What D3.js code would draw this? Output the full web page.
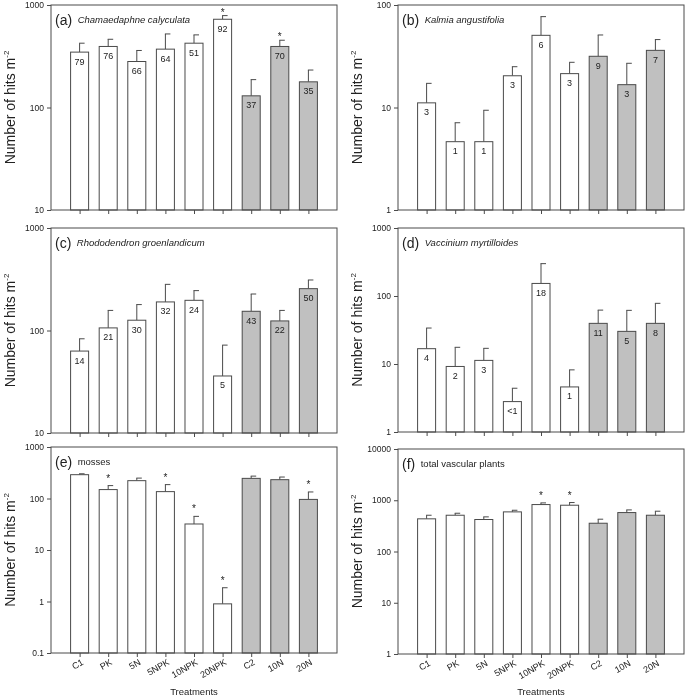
<!DOCTYPE html>
<html><head><meta charset="utf-8">
<script src="https://cdn.jsdelivr.net/npm/d3@7"></script>
<style>
body{margin:0;background:#fff}
svg{display:block;will-change:transform}
text{font-family:"Liberation Sans",Arial,sans-serif;fill:#222}
</style>
</head><body>
<svg id="chart" width="685" height="698"></svg>
<script>
// ---------- data ----------
const treatments = ["C1","PK","5N","5NPK","10NPK","20NPK","C2","10N","20N"];
const shadedTreatments = ["C2","10N","20N"];

const panelLetters = ["(a)","(b)","(c)","(d)","(e)","(f)"];
const panelNames = ["Chamaedaphne calyculata","Kalmia angustifolia","Rhododendron groenlandicum","Vaccinium myrtilloides","mosses","total vascular plants"];
const panelItalic = [true,true,true,true,false,false];

const chamaedaphneMean  = [347,394,281,371,424,726,130,394,178];
const chamaedaphneUpper = [424,463,360,522,511,788,187,453,232];
const chamaedaphneN     = ["79","76","66","64","51","92","37","70","35"];
const chamaedaphneSig   = [0,0,0,0,0,1,0,1,0];

const kalmiaMean  = [11.1,4.64,4.64,20.4,50.6,21.4,31.6,16.7,36.1];
const kalmiaUpper = [17.2,7.1,9.4,25,77,27.6,51,27,46];
const kalmiaN     = ["3","1","1","3","6","3","9","3","7"];
const kalmiaSig   = [0,0,0,0,0,0,0,0,0];

const rhododendronMean  = [63,106,126,190,197,36,154,124,256];
const rhododendronUpper = [83,157,179,282,245,72,227,157,311];
const rhododendronN     = ["14","21","30","32","24","5","43","22","50"];
const rhododendronSig   = [0,0,0,0,0,0,0,0,0];

const vacciniumMean  = [16.8,9.2,11.3,2.8,153,4.6,39.6,30.2,39.6];
const vacciniumUpper = [33.8,17.6,17,4.4,299,8.2,62,61.5,78];
const vacciniumN     = ["4","2","3","<1","18","1","11","5","8"];
const vacciniumSig   = [0,0,0,0,0,0,0,0,0];

const mossesMean  = [290,149,222,136,32,0.9,246,232,96];
const mossesUpper = [302,178,249,186,45,1.85,272,261,134];
const mossesN     = ["","","","","","","","",""];
const mossesSig   = [0,1,0,1,1,1,0,0,1];

const vascularMean  = [434,510,421,593,824,800,356,575,510];
const vascularUpper = [510,558,474,638,888,902,427,648,611];
const vascularN     = ["","","","","","","","",""];
const vascularSig   = [0,0,0,0,1,1,0,0,0];

const yTicksA = [10,100,1000];
const yTicksB = [1,10,100];
const yTicksC = [10,100,1000];
const yTicksD = [1,10,100,1000];
const yTicksE = [0.1,1,10,100,1000];
const yTicksF = [1,10,100,1000,10000];

const yLabel = "Number of hits m";
const yLabelSup = "-2";
const xLabel = "Treatments";

// ---------- panel table ----------
const panels = [
  {mean:chamaedaphneMean, upper:chamaedaphneUpper, n:chamaedaphneN, sig:chamaedaphneSig, ticks:yTicksA},
  {mean:kalmiaMean, upper:kalmiaUpper, n:kalmiaN, sig:kalmiaSig, ticks:yTicksB},
  {mean:rhododendronMean, upper:rhododendronUpper, n:rhododendronN, sig:rhododendronSig, ticks:yTicksC},
  {mean:vacciniumMean, upper:vacciniumUpper, n:vacciniumN, sig:vacciniumSig, ticks:yTicksD},
  {mean:mossesMean, upper:mossesUpper, n:mossesN, sig:mossesSig, ticks:yTicksE},
  {mean:vascularMean, upper:vascularUpper, n:vascularN, sig:vascularSig, ticks:yTicksF}
];

const layout = [
  {left:51,  top:5,   w:286, h:205, star:6},
  {left:398, top:5,   w:286, h:205, star:9},
  {left:51,  top:228, w:286, h:205, star:9},
  {left:398, top:228, w:286, h:204, star:9},
  {left:51,  top:447, w:286, h:206, star:10},
  {left:398, top:449, w:286, h:205, star:10}
];

const svg = d3.select("#chart");
const lineCol = "#4a4a4a";

panels.forEach((p, i) => {
  const L = layout[i];
  const g = svg.append("g").attr("transform", `translate(${L.left},${L.top})`);
  const x = d3.scalePoint().domain(treatments).range([0, L.w]).padding(1);
  const ext = d3.extent(p.ticks);
  const y = d3.scaleLog().domain(ext).range([L.h, 0]);
  const bw = x.step() * 0.63;
  const rows = treatments.map((t, j) => ({t, m:p.mean[j], u:p.upper[j], n:p.n[j], s:p.sig[j]}));

  // error bars
  g.selectAll("line.err").data(rows).join("line")
    .attr("x1", d => x(d.t)).attr("x2", d => x(d.t))
    .attr("y1", d => y(d.m)).attr("y2", d => y(d.u))
    .attr("stroke", lineCol).attr("stroke-width", 1);
  g.selectAll("line.cap").data(rows).join("line")
    .attr("x1", d => x(d.t) - 0.5).attr("x2", d => x(d.t) + 5)
    .attr("y1", d => y(d.u)).attr("y2", d => y(d.u))
    .attr("stroke", lineCol).attr("stroke-width", 1);

  // bars
  g.selectAll("rect.bar").data(rows).join("rect")
    .attr("x", d => x(d.t) - bw/2)
    .attr("y", d => y(d.m))
    .attr("width", bw)
    .attr("height", d => L.h - y(d.m))
    .attr("fill", d => shadedTreatments.includes(d.t) ? "#c0c0c0" : "#fff")
    .attr("stroke", lineCol).attr("stroke-width", 1);

  // n labels
  g.selectAll("text.n").data(rows.filter(d => d.n !== "")).join("text")
    .attr("x", d => x(d.t)).attr("y", d => y(d.m) + 12.5)
    .attr("text-anchor", "middle").attr("font-size", 9).text(d => d.n);

  // significance stars
  g.selectAll("text.star").data(rows.filter(d => d.s)).join("text")
    .attr("x", d => x(d.t)).attr("y", d => y(d.u) - L.star + 6)
    .attr("text-anchor", "middle").attr("font-size", 10).text("*");

  // frame
  g.append("rect").attr("x",0).attr("y",0).attr("width",L.w).attr("height",L.h)
    .attr("fill","none").attr("stroke",lineCol).attr("stroke-width",1);

  // y axis
  const ya = g.append("g").call(d3.axisLeft(y).tickValues(p.ticks).tickFormat(d => String(d)).tickSize(4).tickPadding(3));
  ya.select(".domain").remove();
  ya.selectAll("line").attr("stroke", lineCol);
  ya.selectAll("text").attr("font-size", 8.5).attr("fill", "#222");

  // x axis
  const xa = g.append("g").attr("transform", `translate(0,${L.h})`)
    .call(d3.axisBottom(x).tickSize(4).tickFormat(i >= 4 ? (d => d) : () => ""));
  xa.select(".domain").remove();
  xa.selectAll("line").attr("stroke", lineCol);
  if (i >= 4) {
    xa.selectAll("text")
      .attr("font-size", 9).attr("fill", "#222")
      .attr("text-anchor", "end")
      .attr("dy", null)
      .attr("transform", "translate(4,11) rotate(-30)")
      .attr("y", 0).attr("x", 0);
    g.append("text").attr("x", L.w/2).attr("y", 695 - L.top)
      .attr("text-anchor","middle").attr("font-size", 9.5).text(xLabel);
  }

  // y label
  const yl = g.append("text")
    .attr("transform", `translate(-41,${L.h/2}) rotate(-90)`)
    .attr("text-anchor", "middle").attr("dy", "0.35em").attr("font-size", 14);
  yl.append("tspan").text(yLabel);
  yl.append("tspan").attr("font-size", 8).attr("dy", -6).text(yLabelSup);

  // title
  const tt = g.append("text").attr("x", 4).attr("y", 19.5).attr("font-size", 14).text(panelLetters[i]);
  const tw = tt.node().getComputedTextLength();
  g.append("text").attr("x", 4 + tw + 5.5).attr("y", 18).attr("font-size", 9.5)
    .attr("font-style", panelItalic[i] ? "italic" : "normal").text(panelNames[i]);
});
</script>
</body></html>
